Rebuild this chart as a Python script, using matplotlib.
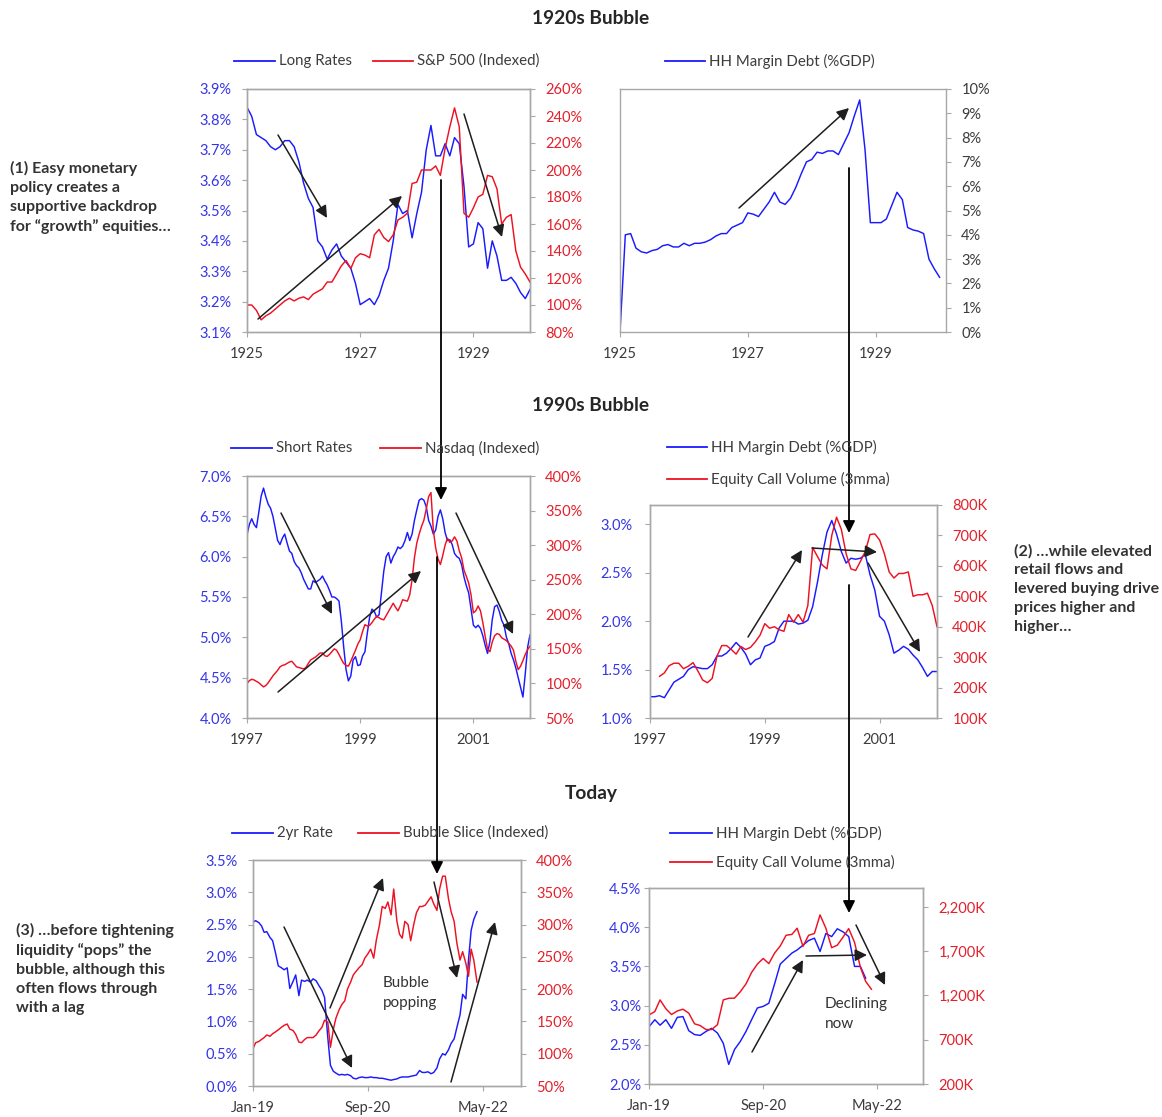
import numpy as np
import pandas as pd
import matplotlib
matplotlib.use('Agg')
import matplotlib.pyplot as plt
from matplotlib.patches import FancyArrowPatch
from matplotlib.lines import Line2D
from matplotlib.ticker import FuncFormatter, FixedLocator, MultipleLocator
import matplotlib.dates as mdates

plt.rcParams['font.family'] = ['Lato', 'DejaVu Sans']

# ---------------- DATA ----------------
# 1920s (monthly, Jan-1925 .. Jan-1930)
tl_long_rates = [3.84, 3.81, 3.75, 3.74, 3.73, 3.71, 3.70, 3.71, 3.73, 3.73,
                 3.71, 3.66, 3.59, 3.54, 3.51, 3.40, 3.38, 3.34, 3.37, 3.39,
                 3.35, 3.33, 3.31, 3.26, 3.19, 3.20, 3.21, 3.19, 3.22, 3.27,
                 3.31, 3.40, 3.52, 3.49, 3.50, 3.41, 3.49, 3.56, 3.70, 3.78,
                 3.68, 3.68, 3.72, 3.68, 3.74, 3.72, 3.58, 3.38, 3.39, 3.46,
                 3.44, 3.31, 3.40, 3.35, 3.27, 3.27, 3.28, 3.26, 3.23, 3.21,
                 3.24]
tl_sp500 = [100, 100, 96, 89, 92, 94, 97, 100, 103, 105,
            103, 105, 106, 104, 108, 110, 112, 117, 117, 123,
            129, 133, 127, 135, 138, 137, 135, 152, 156, 150,
            147, 152, 163, 165, 168, 190, 191, 200, 200, 200,
            203, 196, 216, 232, 246, 232, 168, 165, 172, 180,
            182, 196, 195, 186, 160, 165, 167, 140, 128, 123,
            117]
tr_margin_1920s = [0.0, 4.0, 4.05, 3.45, 3.3, 3.25, 3.35, 3.4, 3.55, 3.6,
                   3.5, 3.5, 3.65, 3.55, 3.65, 3.65, 3.7, 3.8, 3.95, 4.05,
                   4.05, 4.3, 4.4, 4.5, 4.9, 4.85, 4.75, 5.05, 5.35, 5.75,
                   5.35, 5.25, 5.5, 5.95, 6.5, 7.0, 7.1, 7.4, 7.35, 7.45,
                   7.45, 7.3, 7.75, 8.2, 8.9, 9.55, 7.5, 4.5, 4.5, 4.5,
                   4.65, 5.2, 5.75, 5.45, 4.3, 4.2, 4.15, 4.05, 3.0, 2.6,
                   2.25]

# 1990s (semi-monthly, Jan-1997 .. Jan-2002)
ml_short_rates = [6.27, 6.40, 6.47, 6.40, 6.36, 6.55, 6.75, 6.85, 6.74, 6.65,
                  6.60, 6.50, 6.35, 6.20, 6.15, 6.23, 6.28, 6.17, 6.07, 6.04,
                  5.94, 5.89, 5.86, 5.80, 5.72, 5.66, 5.60, 5.60, 5.70, 5.68,
                  5.70, 5.72, 5.76, 5.70, 5.65, 5.58, 5.50, 5.50, 5.48, 5.45,
                  5.20, 4.88, 4.60, 4.46, 4.52, 4.72, 4.76, 4.65, 4.66, 4.77,
                  4.82, 5.05, 5.25, 5.35, 5.32, 5.25, 5.28, 5.55, 5.82, 6.00,
                  6.05, 5.92, 6.00, 6.05, 6.12, 6.10, 6.13, 6.20, 6.30, 6.20,
                  6.28, 6.45, 6.58, 6.70, 6.72, 6.70, 6.62, 6.45, 6.38, 6.28,
                  6.33, 6.50, 6.58, 6.47, 6.30, 6.20, 6.21, 6.15, 6.04, 6.00,
                  5.98, 5.90, 5.75, 5.64, 5.55, 5.35, 5.15, 5.12, 5.15, 5.11,
                  5.02, 4.90, 4.80, 4.95, 5.22, 5.38, 5.40, 5.32, 5.21, 5.15,
                  5.00, 4.92, 4.80, 4.72, 4.62, 4.50, 4.38, 4.26, 4.55, 4.88,
                  5.03]
ml_nasdaq = [100, 104, 106, 105, 103, 101, 98, 95, 97, 101,
             106, 111, 115, 119, 124, 126, 127, 129, 131, 132,
             128, 124, 123, 122, 121, 123, 129, 134, 136, 138,
             141, 144, 144, 140, 139, 142, 146, 150, 148, 142,
             135, 129, 126, 125, 132, 140, 148, 157, 163, 175,
             185, 183, 184, 188, 193, 197, 195, 193, 192, 198,
             204, 210, 216, 210, 205, 212, 221, 220, 219, 228,
             250, 282, 303, 316, 327, 336, 352, 370, 376, 322,
             296, 280, 272, 285, 300, 310, 304, 306, 312, 306,
             292, 282, 264, 255, 245, 228, 202, 205, 212, 205,
             188, 168, 150, 146, 160, 169, 172, 171, 166, 164,
             162, 158, 154, 148, 132, 120, 125, 133, 142, 149,
             154]
# 1990s monthly, Jan-1997 .. Jan-2002
mr_margin_1990s = [1.22, 1.22, 1.23, 1.21, 1.29, 1.37, 1.40, 1.43, 1.50, 1.53,
                   1.52, 1.51, 1.51, 1.55, 1.64, 1.64, 1.67, 1.72, 1.78, 1.73,
                   1.66, 1.55, 1.60, 1.62, 1.74, 1.76, 1.79, 1.93, 2.00, 2.00,
                   2.00, 1.97, 1.98, 2.01, 2.15, 2.40, 2.68, 2.92, 3.04, 2.90,
                   2.72, 2.60, 2.65, 2.64, 2.65, 2.69, 2.48, 2.32, 2.05, 2.00,
                   1.86, 1.67, 1.70, 1.74, 1.71, 1.65, 1.60, 1.52, 1.43, 1.48,
                   1.48]
# Mar-1997 .. Jan-2002 (thousands)
mr_calls_1990s = [237, 248, 272, 280, 280, 262, 270, 282, 255, 225,
                  216, 230, 303, 338, 338, 325, 310, 335, 325, 332,
                  350, 372, 410, 395, 400, 390, 385, 440, 415, 440,
                  415, 470, 660, 631, 603, 590, 700, 760, 720, 640,
                  590, 585, 615, 647, 703, 705, 685, 640, 580, 560,
                  575, 575, 580, 500, 505, 505, 510, 470, 400]

# Today (semi-monthly from Jan-2019)
bl_2yr = [2.54, 2.56, 2.53, 2.48, 2.38, 2.39, 2.30, 2.25, 2.05, 1.86,
          1.83, 1.80, 1.83, 1.51, 1.62, 1.72, 1.40, 1.64, 1.62, 1.64,
          1.61, 1.66, 1.63, 1.56, 1.48, 1.37, 0.75, 0.32, 0.23, 0.20,
          0.17, 0.18, 0.17, 0.18, 0.16, 0.12, 0.11, 0.13, 0.14, 0.13,
          0.13, 0.14, 0.13, 0.13, 0.12, 0.12, 0.11, 0.10, 0.09, 0.10,
          0.11, 0.13, 0.14, 0.14, 0.14, 0.15, 0.16, 0.17, 0.24, 0.21,
          0.21, 0.22, 0.19, 0.21, 0.28, 0.42, 0.50, 0.48, 0.56, 0.66,
          0.73, 0.90, 1.10, 1.42, 1.35, 1.95, 2.41, 2.58, 2.70]
bl_bubble = [108, 117, 119, 122, 125, 129, 127, 131, 134, 137,
             141, 144, 146, 138, 136, 130, 118, 117, 122, 125,
             125, 125, 129, 135, 141, 152, 149, 110, 137, 155,
             168, 176, 182, 200, 211, 222, 228, 233, 238, 248,
             255, 262, 248, 276, 300, 328, 325, 335, 315, 355,
             305, 285, 279, 305, 300, 275, 300, 318, 328, 328,
             330, 336, 343, 332, 322, 355, 375, 375, 340, 320,
             305, 272, 245, 258, 240, 220, 262, 245, 211]
# Today monthly from Jan-2019
br_margin = [2.73, 2.82, 2.75, 2.82, 2.71, 2.85, 2.86, 2.68, 2.63, 2.62,
             2.67, 2.71, 2.65, 2.52, 2.25, 2.44, 2.54, 2.67, 2.82, 2.97,
             2.99, 3.03, 3.28, 3.53, 3.60, 3.67, 3.71, 3.77, 3.83, 3.86,
             3.69, 3.92, 3.88, 3.98, 3.94, 3.88, 3.50, 3.50, 3.35]
br_calls = [980, 1018, 1150, 1050, 985, 1025, 1045, 1000, 880, 860,
            815, 815, 870, 1150, 1168, 1170, 1240, 1330, 1460, 1555,
            1618, 1560, 1680, 1760, 1880, 1890, 1960, 1755, 1880, 1900,
            2110, 1960, 1740, 1768, 1860, 1955, 1800, 1520, 1360, 1270]

# ---------------- STYLE ----------------
W, H = 1162, 1117
BLUE = '#1a1aff'
RED = '#ee1122'
BLUE_T = '#3535e8'
RED_T = '#e3202b'
GRAY = '#a8a8a8'
TXT = '#3c3c3c'
ARW = '#1e1e1e'

fig = plt.figure(figsize=(W / 100, H / 100), dpi=100)


def rect(l, t, r, b):
    return [l / W, 1 - b / H, (r - l) / W, (b - t) / H]


def fp(x, y):
    return (x / W, 1 - y / H)


def style_axes(ax, lcol=None, rax=None, rcol=None, lpad=7.5, rpad=7.5):
    for a in [ax] + ([rax] if rax is not None else []):
        for s in a.spines.values():
            s.set_color(GRAY)
            s.set_linewidth(1.0)
    ax.tick_params(axis='x', direction='out', length=3.5, width=0.8,
                   color=GRAY, labelsize=10.5, labelcolor=TXT, pad=7,
                   top=False)
    if lcol is not None:
        ax.tick_params(axis='y', direction='out', length=3.5, width=0.8,
                       color=GRAY, labelsize=10.5, labelcolor=lcol,
                       pad=lpad, right=False)
    if rax is not None:
        rax.tick_params(axis='y', direction='out', length=3.5, width=0.8,
                        color=GRAY, labelsize=10.5, labelcolor=rcol,
                        pad=rpad)
    ax.set_facecolor('white')


pct1 = FuncFormatter(lambda v, p: f'{v:.1f}%')
pct0 = FuncFormatter(lambda v, p: f'{v:.0f}%')
kfmt = FuncFormatter(lambda v, p: f'{v:,.0f}K')

LW = 1.05

# ---- 1920s left ----
yrs20 = 1925 + np.arange(len(tl_long_rates)) / 12
ax1 = fig.add_axes(rect(247, 89, 530, 332))
ax1r = ax1.twinx()
ax1.plot(yrs20, tl_long_rates, color=BLUE, lw=LW)
ax1r.plot(yrs20, tl_sp500, color=RED, lw=LW)
ax1.set_xlim(1925, 1930)
ax1.set_ylim(3.1, 3.9)
ax1r.set_ylim(80, 260)
ax1.yaxis.set_major_locator(MultipleLocator(0.1))
ax1.yaxis.set_major_formatter(pct1)
ax1r.yaxis.set_major_locator(MultipleLocator(20))
ax1r.yaxis.set_major_formatter(pct0)
ax1.xaxis.set_major_locator(FixedLocator([1925, 1927, 1929]))
ax1.xaxis.set_major_formatter(FuncFormatter(lambda v, p: f'{v:.0f}'))
style_axes(ax1, BLUE_T, ax1r, RED_T)

# ---- 1920s right ----
yrs20b = 1925 + np.arange(len(tr_margin_1920s)) / 12
ax2 = fig.add_axes(rect(620, 89, 946, 332))
ax2.plot(yrs20b, tr_margin_1920s, color=BLUE, lw=LW)
ax2.set_xlim(1925, 1930.1)
ax2.set_ylim(0, 10)
ax2.yaxis.tick_right()
ax2.yaxis.set_major_locator(MultipleLocator(1))
ax2.yaxis.set_major_formatter(pct0)
ax2.xaxis.set_major_locator(FixedLocator([1925, 1927, 1929]))
ax2.xaxis.set_major_formatter(FuncFormatter(lambda v, p: f'{v:.0f}'))
style_axes(ax2)
ax2.tick_params(axis='y', direction='out', length=3.5, width=0.8, color=GRAY,
                labelsize=10.5, labelcolor=TXT, pad=7.5, left=False,
                right=True)

# ---- 1990s left ----
yrs90 = 1997 + np.arange(len(ml_short_rates)) / 24
ax3 = fig.add_axes(rect(247, 476, 530, 718))
ax3r = ax3.twinx()
ax3.plot(yrs90, ml_short_rates, color=BLUE, lw=LW)
ax3r.plot(yrs90, ml_nasdaq, color=RED, lw=LW)
ax3.set_xlim(1997, 2002)
ax3.set_ylim(4.0, 7.0)
ax3r.set_ylim(50, 400)
ax3.yaxis.set_major_locator(MultipleLocator(0.5))
ax3.yaxis.set_major_formatter(pct1)
ax3r.yaxis.set_major_locator(MultipleLocator(50))
ax3r.yaxis.set_major_formatter(pct0)
ax3.xaxis.set_major_locator(FixedLocator([1997, 1999, 2001]))
ax3.xaxis.set_major_formatter(FuncFormatter(lambda v, p: f'{v:.0f}'))
style_axes(ax3, BLUE_T, ax3r, RED_T)

# ---- 1990s right ----
mon90 = 1997 + np.arange(len(mr_margin_1990s)) / 12
ax4 = fig.add_axes(rect(650, 505, 937, 718))
ax4r = ax4.twinx()
ax4.plot(mon90, mr_margin_1990s, color=BLUE, lw=LW)
ax4r.plot(mon90[2:], mr_calls_1990s, color=RED, lw=LW)
ax4.set_xlim(1997, 2002)
ax4.set_ylim(1.0, 3.2)
ax4r.set_ylim(100, 800)
ax4.yaxis.set_major_locator(FixedLocator([1.0, 1.5, 2.0, 2.5, 3.0]))
ax4.yaxis.set_major_formatter(pct1)
ax4r.yaxis.set_major_locator(MultipleLocator(100))
ax4r.yaxis.set_major_formatter(kfmt)
ax4.xaxis.set_major_locator(FixedLocator([1997, 1999, 2001]))
ax4.xaxis.set_major_formatter(FuncFormatter(lambda v, p: f'{v:.0f}'))
style_axes(ax4, BLUE_T, ax4r, RED_T, lpad=9)

# ---- Today left ----
bl_dates = pd.date_range('2019-01-01', periods=len(bl_2yr), freq='SMS')
ax5 = fig.add_axes(rect(253, 860, 521, 1086))
ax5r = ax5.twinx()
ax5.plot(bl_dates, bl_2yr, color=BLUE, lw=LW)
ax5r.plot(bl_dates, bl_bubble, color=RED, lw=LW)
ax5.set_xlim(pd.Timestamp('2019-01-01'), pd.Timestamp('2022-11-20'))
ax5.set_ylim(0, 3.5)
ax5r.set_ylim(50, 400)
ax5.yaxis.set_major_locator(MultipleLocator(0.5))
ax5.yaxis.set_major_formatter(pct1)
ax5r.yaxis.set_major_locator(MultipleLocator(50))
ax5r.yaxis.set_major_formatter(pct0)
ax5.xaxis.set_major_locator(FixedLocator(mdates.date2num(
    [pd.Timestamp('2019-01-01'), pd.Timestamp('2020-09-01'),
     pd.Timestamp('2022-05-01')])))
ax5.xaxis.set_major_formatter(mdates.DateFormatter('%b-%y'))
style_axes(ax5, BLUE_T, ax5r, RED_T)

# ---- Today right ----
br_dates = pd.date_range('2019-01-01', periods=len(br_calls), freq='MS')
ax6 = fig.add_axes(rect(649, 888, 923, 1084))
ax6r = ax6.twinx()
ax6.plot(br_dates[:len(br_margin)], br_margin, color=BLUE, lw=LW)
ax6r.plot(br_dates, br_calls, color=RED, lw=LW)
ax6.set_xlim(pd.Timestamp('2019-01-01'), pd.Timestamp('2023-01-01'))
ax6.set_ylim(2.0, 4.5)
ax6r.set_ylim(200, 2414)
ax6.yaxis.set_major_locator(MultipleLocator(0.5))
ax6.yaxis.set_major_formatter(pct1)
ax6r.yaxis.set_major_locator(FixedLocator([200, 700, 1200, 1700, 2200]))
ax6r.yaxis.set_major_formatter(kfmt)
ax6.xaxis.set_major_locator(FixedLocator(mdates.date2num(
    [pd.Timestamp('2019-01-01'), pd.Timestamp('2020-09-01'),
     pd.Timestamp('2022-05-01')])))
ax6.xaxis.set_major_formatter(mdates.DateFormatter('%b-%y'))
style_axes(ax6, BLUE_T, ax6r, RED_T, lpad=2)

# ---------------- TITLES ----------------
for y, t in [(18, '1920s Bubble'), (406, '1990s Bubble'), (794, 'Today')]:
    fig.text(*fp(591, y), t, ha='center', va='center', fontsize=13.8,
             fontweight='bold', color='#262626')

# ---------------- LEGENDS ----------------
def leg(x0, x1, y, color, label):
    fig.add_artist(Line2D([x0 / W, x1 / W], [1 - y / H, 1 - y / H],
                          color=color, lw=1.3, transform=fig.transFigure))
    fig.text(*fp(x1 + 4, y), label, ha='left', va='center', fontsize=10.8,
             color=TXT)

leg(234, 275, 61, BLUE, 'Long Rates')
leg(373, 413, 61, RED, 'S&P 500 (Indexed)')
leg(665, 705, 61, BLUE, 'HH Margin Debt (%GDP)')
leg(231, 272, 448, BLUE, 'Short Rates')
leg(380, 421, 448, RED, 'Nasdaq (Indexed)')
leg(667, 707, 447, BLUE, 'HH Margin Debt (%GDP)')
leg(667, 707, 479, RED, 'Equity Call Volume (3mma)')
leg(232, 273, 833, BLUE, '2yr Rate')
leg(358, 399, 833, RED, 'Bubble Slice (Indexed)')
leg(670, 712, 833, BLUE, 'HH Margin Debt (%GDP)')
leg(670, 712, 862, RED, 'Equity Call Volume (3mma)')

# ---------------- SIDE NOTES ----------------
note_kw = dict(ha='left', va='top', fontsize=11.5, fontweight='bold',
               color='#333333', linespacing=1.45)
fig.text(*fp(10, 161), '(1) Easy monetary\npolicy creates a\nsupportive backdrop\nfor \u201cgrowth\u201d equities\u2026', **note_kw)
fig.text(*fp(1014, 544), '(2) \u2026while elevated\nretail flows and\nlevered buying drive\nprices higher and\nhigher\u2026', **note_kw)
fig.text(*fp(16, 923), '(3) \u2026before tightening\nliquidity \u201cpops\u201d the\nbubble, although this\noften flows through\nwith a lag', **note_kw)

fig.text(*fp(383, 976), 'Bubble\npopping', ha='left', va='top', fontsize=11,
         color='#333333', linespacing=1.55)
fig.text(*fp(825, 997), 'Declining\nnow', ha='left', va='top', fontsize=11,
         color='#333333', linespacing=1.55)

# ---------------- ARROWS ----------------
def arrow(x0, y0, x1, y1, color=ARW, lw=1.1):
    fig.add_artist(FancyArrowPatch(fp(x0, y0), fp(x1, y1),
                                   transform=fig.transFigure,
                                   arrowstyle='-|>', mutation_scale=18,
                                   color=color, lw=lw, shrinkA=0, shrinkB=0))

# 1920s left
arrow(278, 135, 327, 218)
arrow(258, 319, 402, 196)
arrow(464, 114, 502, 237)
# 1920s right
arrow(739, 208, 849, 108)
# 1990s left
arrow(281, 513, 332, 614)
arrow(278, 692, 421, 571)
arrow(456, 513, 513, 634)
# 1990s right
arrow(748, 637, 802, 550)
arrow(812, 548, 877, 552)
arrow(868, 563, 920, 652)
# Today left
arrow(284, 927, 352, 1068)
arrow(330, 1008, 383, 878)
arrow(434, 882, 457, 978)
arrow(451, 1082, 495, 922)
# Today right
arrow(752, 1052, 803, 960)
arrow(806, 956, 867, 955)
arrow(856, 925, 885, 985)
# long connectors
arrow(441, 180, 441, 500, color='black', lw=1.3)
arrow(437, 557, 437, 874, color='black', lw=1.3)
arrow(849, 168, 849, 533, color='black', lw=1.3)
arrow(849, 585, 849, 913, color='black', lw=1.3)

fig.savefig('out.png', dpi=100, facecolor='white')
